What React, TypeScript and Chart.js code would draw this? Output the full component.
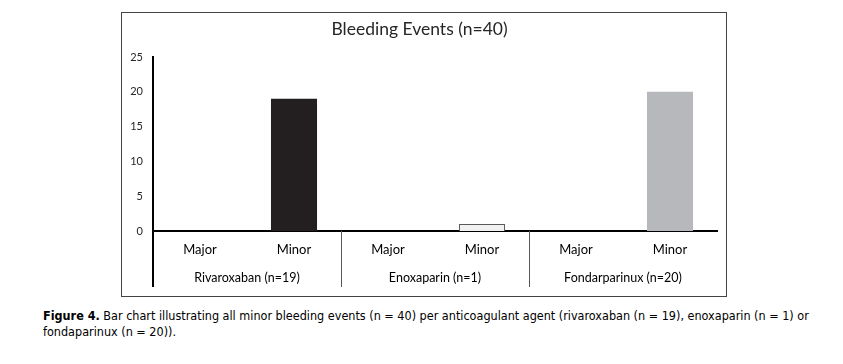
import React, { useEffect, useRef } from "react";
import { Chart, registerables } from "chart.js";

Chart.register(...registerables);

const subLabels = ["Major", "Minor", "Major", "Minor", "Major", "Minor"];
const agents = ["Rivaroxaban (n=19)", "Enoxaparin (n=1)", "Fondarparinux (n=20)"];
const majorEvents = [0, 0, 0];
const minorEvents = [19, 1, 20];
const agentColors = ["#231f20", "#f2f2f2", "#b7b8bb"];
const agentBorders = ["#231f20", "#595959", "#b7b8bb"];
const yMin = 0;
const yMax = 25;
const yStep = 5;
const titleText = "Bleeding Events (n=40)";

const FONT = "Lato, 'Open Sans', sans-serif";

const groupAxisPlugin = {
  id: "groupAxis",
  afterDraw(chart: any) {
    const x = chart.scales.x;
    const ctx = chart.ctx;
    const ca = chart.chartArea;
    const top = ca.bottom;
    const bottom = ca.bottom + 56;
    ctx.save();
    agents.forEach((name, g) => {
      const i0 = g * 2;
      const i1 = g * 2 + 1;
      let bx: number;
      if (g === 0) {
        bx = ca.left;
        ctx.strokeStyle = "#000";
        ctx.lineWidth = 2;
      } else {
        bx = Math.round((x.getPixelForValue(i0 - 1) + x.getPixelForValue(i0)) / 2) + 0.5;
        ctx.strokeStyle = "#595959";
        ctx.lineWidth = 1;
      }
      ctx.beginPath();
      ctx.moveTo(bx, top);
      ctx.lineTo(bx, bottom);
      ctx.stroke();
      const cx = (x.getPixelForValue(i0) + x.getPixelForValue(i1)) / 2;
      ctx.fillStyle = "#000";
      ctx.font = `12.5px ${FONT}`;
      ctx.textAlign = "center";
      ctx.textBaseline = "middle";
      ctx.fillText(name, cx, ca.bottom + 47);
    });
    ctx.restore();
  },
};

export default function App() {
  const ref = useRef<HTMLCanvasElement | null>(null);

  useEffect(() => {
    if (!ref.current) return;
    const values: number[] = [];
    const bg: string[] = [];
    const bc: string[] = [];
    const bw: number[] = [];
    agents.forEach((_, g) => {
      values.push(majorEvents[g]);
      bg.push(agentColors[g]);
      bc.push(agentBorders[g]);
      bw.push(0);
      values.push(minorEvents[g]);
      bg.push(agentColors[g]);
      bc.push(agentBorders[g]);
      bw.push(g === 1 ? 1 : 0);
    });
    const chart = new Chart(ref.current, {
      type: "bar",
      data: {
        labels: subLabels,
        datasets: [
          {
            label: "Bleeding events",
            data: values,
            backgroundColor: bg,
            borderColor: bc,
            borderWidth: bw,
            categoryPercentage: 1,
            barPercentage: 0.49,
          },
        ],
      },
      options: {
        animation: false,
        responsive: false,
        maintainAspectRatio: false,
        layout: { padding: { left: 0, right: 9, top: 0, bottom: 0 } },
        plugins: {
          legend: { display: false },
          tooltip: { enabled: false },
          title: {
            display: true,
            text: titleText,
            color: "#262626",
            font: { family: FONT, size: 17.5, weight: "normal" },
            padding: { top: 6, bottom: 17 },
          },
        },
        scales: {
          x: {
            grid: { display: false, drawTicks: false },
            border: { display: true, color: "#000", width: 2 },
            ticks: {
              color: "#000",
              font: { family: FONT, size: 13 },
              padding: 11,
              maxRotation: 0,
            },
            afterFit: (s: any) => {
              s.height = 65;
            },
          },
          y: {
            min: yMin,
            max: yMax,
            grid: { display: false, drawTicks: false },
            border: { display: true, color: "#000", width: 2 },
            ticks: {
              stepSize: yStep,
              color: "#262626",
              font: { family: FONT, size: 11 },
              padding: 10,
            },
            afterFit: (s: any) => {
              s.width = 31;
            },
          },
        },
      },
      plugins: [groupAxisPlugin],
    });
    return () => chart.destroy();
  }, []);

  return (
    <div
      style={{
        position: "absolute",
        left: 0,
        top: 0,
        width: 843,
        height: 364,
        background: "#fff",
      }}
    >
      <div
        style={{
          position: "absolute",
          left: 121,
          top: 12,
          width: 606,
          height: 285,
          border: "1px solid #444",
          boxSizing: "border-box",
        }}
      >
        <canvas ref={ref} width={604} height={283} style={{ display: "block" }} />
      </div>
      <div
        style={{
          position: "absolute",
          left: 43,
          top: 308,
          fontFamily: "'Liberation Sans Narrow', 'DejaVu Sans Condensed', Lato, sans-serif",
          fontSize: 12.5,
          lineHeight: "16px",
          color: "#000",
          whiteSpace: "nowrap",
        }}
      >
        <b>Figure 4.</b> Bar chart illustrating all minor bleeding events (n = 40) per anticoagulant agent
        (rivaroxaban (n = 19), enoxaparin (n = 1) or
        <br />
        fondaparinux (n = 20)).
      </div>
    </div>
  );
}
